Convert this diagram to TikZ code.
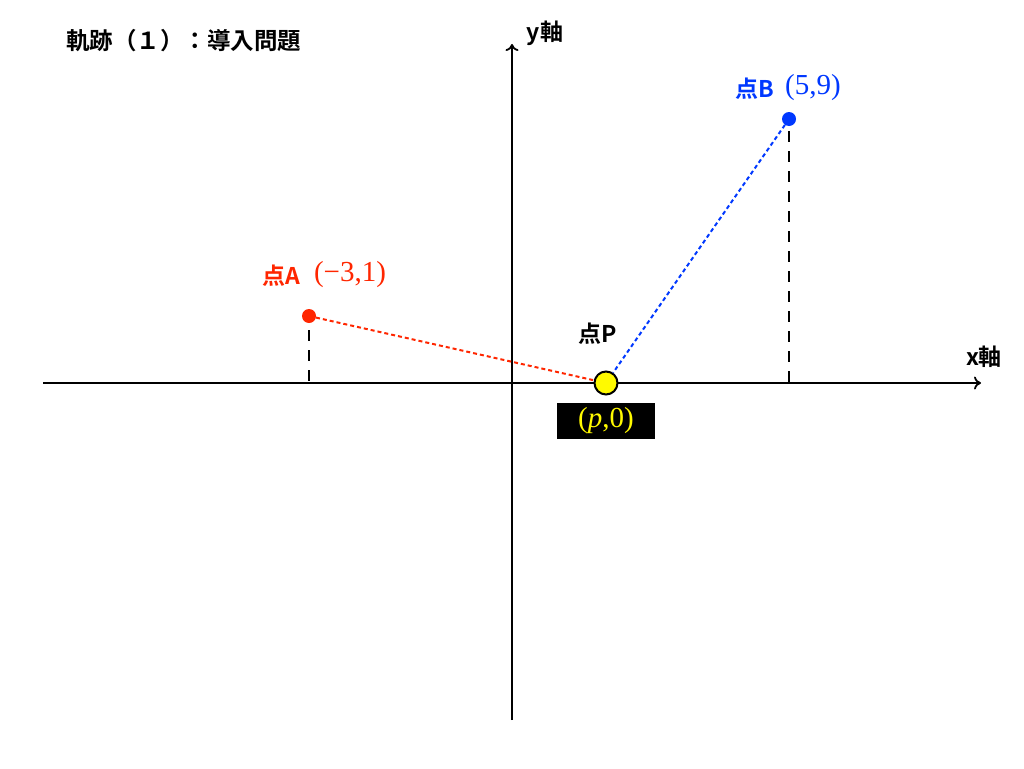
\documentclass[tikz,border=0pt]{standalone}
\usepackage{fontspec}
\setmainfont{Liberation Serif}
\newfontfamily\cjkb{Noto Sans CJK JP Bold}
\usetikzlibrary{arrows.meta}
\definecolor{ptred}{RGB}{255,38,0}
\definecolor{ptblue}{RGB}{0,56,255}
\definecolor{ptyellow}{RGB}{255,250,0}
\tikzset{
  axis/.style={line width=2pt,-{To[length=7pt,width=13pt,line width=1.8pt]}},
  pointdot/.style={circle,inner sep=0pt,minimum size=14pt},
  pdot/.style={circle,draw=black,line width=2pt,fill=ptyellow,inner sep=0pt,minimum size=23pt},
  guide/.style={black,line width=2pt,dash pattern=on 11pt off 9pt},
  dotline/.style={line width=2pt,dash pattern=on 4pt off 3pt},
  jlabel/.style={inner sep=0pt,font=\cjkb\fontsize{23}{26}\selectfont},
  clabel/.style={inner sep=0pt,font=\fontsize{29}{33}\selectfont},
}
\begin{document}
\begin{tikzpicture}[x=1pt,y=-1pt]
\useasboundingbox (0,0) rectangle (1024,768);
% axes
\coordinate (xs) at (43,383);
\coordinate (xe) at (981,383);
\coordinate (ys) at (512,720);
\coordinate (ye) at (512,44);
\draw[axis] (xs) -- (xe);
\draw[axis] (ys) -- (ye);
\node[jlabel,anchor=center] (xlab) at (984,357) {x軸};
\node[jlabel,anchor=center] (ylab) at (545,33) {y軸};
% title
\node[inner sep=0pt,anchor=west,font=\cjkb\fontsize{23.5}{28}\selectfont] (title) at (66,41) {軌跡（１）：導入問題};
% points
\node[pointdot,fill=ptred] (A) at (309,316) {};
\node[pointdot,fill=ptblue] (B) at (789,119) {};
\coordinate (Afoot) at (309,383);
\coordinate (Bfoot) at (789,383);
\coordinate (Atop) at (309,330);
\coordinate (Btop) at (789,131);
\draw[guide] (Atop) -- (Afoot);
\draw[guide] (Btop) -- (Bfoot);
\node[pdot] (P) at (606,383) {};
\draw[dotline,ptred] (A) -- (P);
\draw[dotline,ptblue] (B) -- (P);
% labels
\node[jlabel,ptred] (labA) at (281,276) {点A};
\node[clabel,ptred] (coordA) at (350,275) {(−3,1)};
\node[jlabel,ptblue] (labB) at (755,89) {点B};
\node[clabel,ptblue] (coordB) at (813,88) {(5,9)};
\node[jlabel] (labP) at (598,334) {点P};
\node[rectangle,fill=black,minimum width=98pt,minimum height=36pt,inner sep=0pt,text=ptyellow,font=\fontsize{29}{33}\selectfont] (pbox) at (606,421) {(\textit{p},0)};
\end{tikzpicture}
\end{document}
